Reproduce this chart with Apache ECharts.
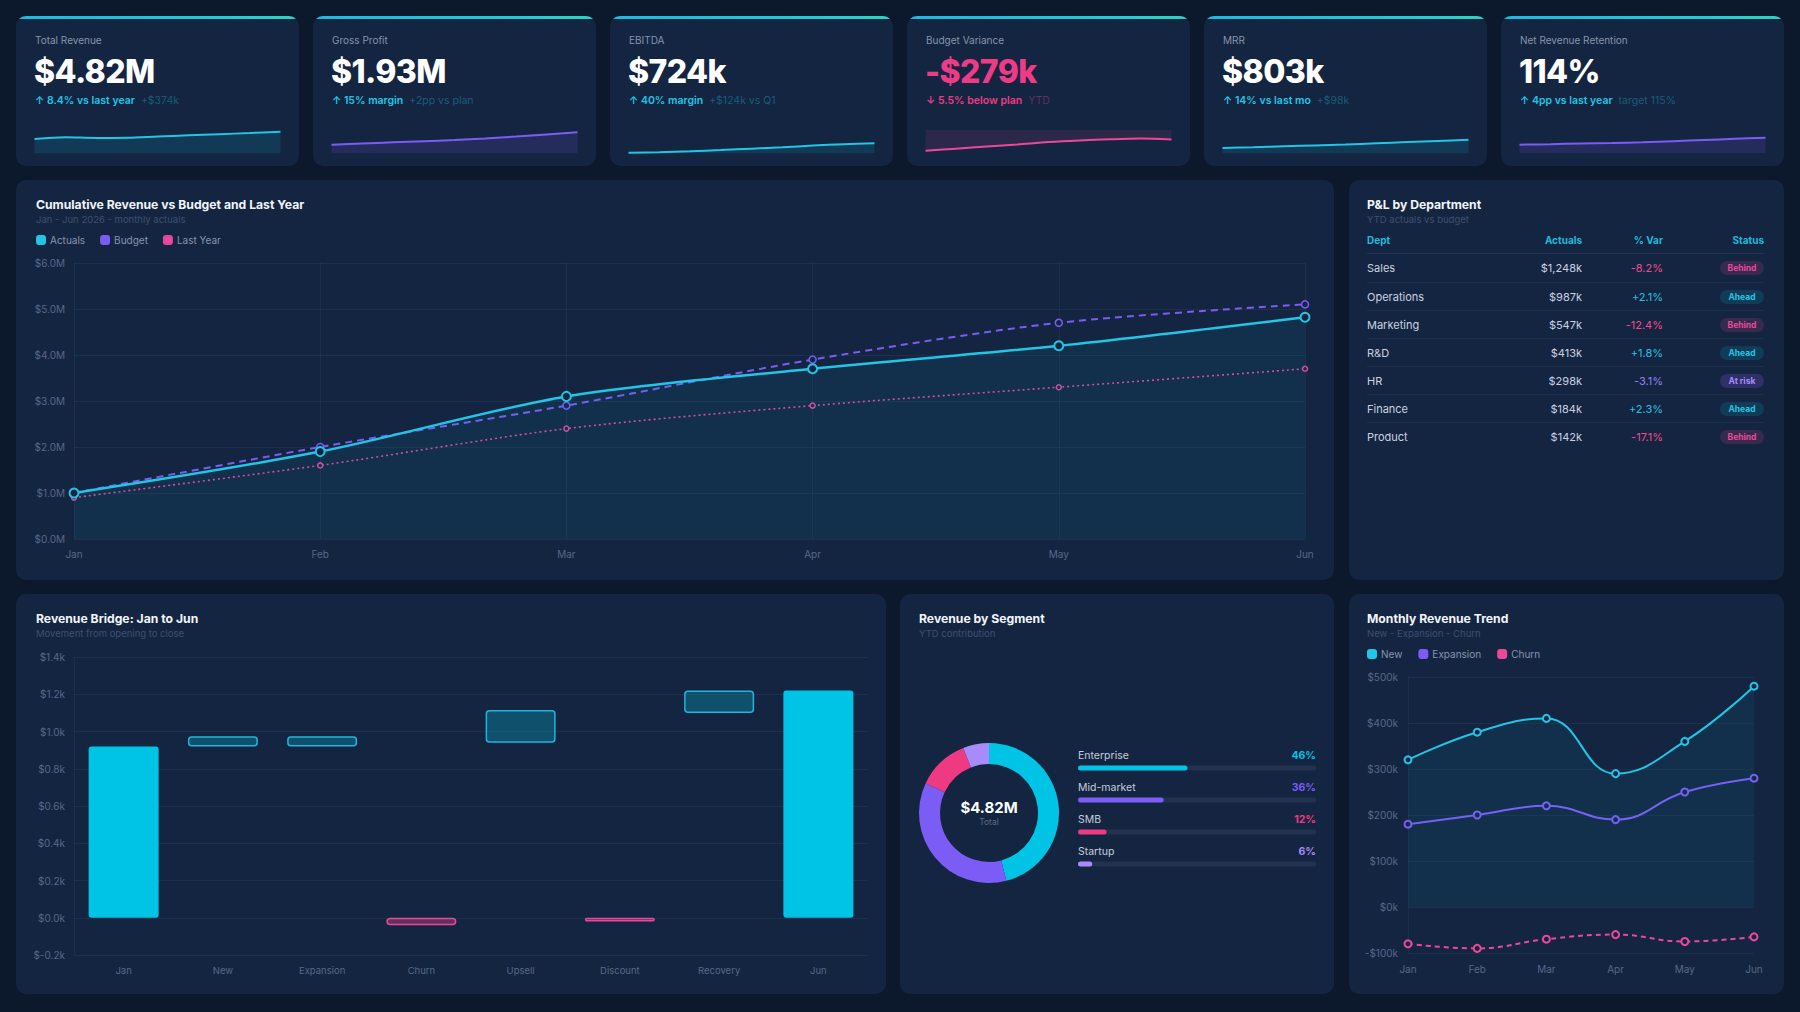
<!DOCTYPE html>
<html><head><meta charset="utf-8"><title>Finance Dashboard</title>
<script src="https://cdn.jsdelivr.net/npm/echarts@6/dist/echarts.min.js"></script>
<style>
*{box-sizing:border-box}
html,body{margin:0;padding:0}
body{width:1800px;height:1012px;background:#0c182b;font-family:Inter,'Noto Sans',sans-serif;position:relative;overflow:hidden;color:#e2e8f0}
.card,.panel{position:absolute;background:#142541;border-radius:10px;overflow:hidden}
.card::before{content:'';position:absolute;left:0;top:0;right:0;height:3px;background:linear-gradient(90deg,#1fb8e0,#22c9d6 70%,#2dd4bf);z-index:3}
.abs{position:absolute;white-space:nowrap}
.klabel{left:19px;top:17px;font-size:10px;line-height:14px;color:#8595ad}
.kvalue{left:18px;top:38px;font-size:32px;line-height:36px;font-weight:800;letter-spacing:-0.6px;color:#fff}
.kdelta{left:19px;top:78px;font-size:10.5px;line-height:14px;font-weight:600}
.kdelta .note{font-weight:400;margin-left:6px}
.spark{position:absolute;left:18px;top:111px;width:247px;height:29px}
.ptitle{font-size:12.2px;line-height:16px;font-weight:700;color:#f1f5f9;top:17px;z-index:2}
.psub{font-size:9.5px;line-height:13px;color:#3d5070;top:33px;z-index:2}
.chart{position:absolute;left:0;top:0;width:100%;height:100%}
.th{font-size:10px;line-height:14px;font-weight:700;color:#22b8d8;top:53px}
.row{position:absolute;left:18px;width:397px;height:28px}
.cell{position:absolute;top:0;line-height:28px;font-size:11px;color:#c9d3e0;white-space:nowrap}
.pill{position:absolute;right:0;top:7px;width:44px;height:14px;border-radius:7px;font-size:8.5px;font-weight:700;line-height:14px;text-align:center}
</style></head>
<body>
<div id="root"></div>
<script>
// ---------- DATA ----------
const kpiLabels = ['Total Revenue','Gross Profit','EBITDA','Budget Variance','MRR','Net Revenue Retention'];
const kpiValues = ['$4.82M','$1.93M','$724k','-$279k','$803k','114%'];
const kpiDeltas = ['↑ 8.4% vs last year','↑ 15% margin','↑ 40% margin','↓ 5.5% below plan','↑ 14% vs last mo','↑ 4pp vs last year'];
const kpiNotes  = ['+$374k','+2pp vs plan','+$124k vs Q1','YTD','+$98k','target 115%'];
const sparkRevenue = [61,69,66,67,72,77,82,87,93];
const sparkGross   = [37,42,47,52,57,64,72,81,90];
const sparkEbitda  = [2,5,9,14,20,26,33,39,43];
const sparkVariance= [-89,-80,-71,-62,-52,-45,-40,-37,-41];
const sparkMrr     = [23,26,30,34,38,43,48,53,58];
const sparkNrr     = [37,39,42,44,47,52,57,62,67];

const months = ['Jan','Feb','Mar','Apr','May','Jun'];
const cumActuals  = [1.0,1.9,3.1,3.7,4.2,4.82];
const cumBudget   = [1.0,2.0,2.9,3.9,4.7,5.1];
const cumLastYear = [0.9,1.6,2.4,2.9,3.3,3.7];
const cumTicks = [0,1,2,3,4,5,6];

const deptNames   = ['Sales','Operations','Marketing','R&D','HR','Finance','Product'];
const deptActuals = [1248,987,547,413,298,184,142];
const deptVar     = [-8.2,2.1,-12.4,1.8,-3.1,2.3,-17.1];
const deptStatus  = ['Behind','Ahead','Behind','Ahead','At risk','Ahead','Behind'];

const bridgeSteps  = ['Jan','New','Expansion','Churn','Upsell','Discount','Recovery','Jun'];
const bridgeBase   = [0,0.92,0.92,0,0.94,0,1.10,0];
const bridgeChange = [0.92,0.055,0.055,-0.04,0.175,-0.02,0.12,1.22];

const segNames = ['Enterprise','Mid-market','SMB','Startup'];
const segShare = [46,36,12,6];
const segTotal = '$4.82M';

const trendNew   = [320,380,410,290,360,480];
const trendExp   = [180,200,220,190,250,280];
const trendChurn = [-80,-90,-70,-60,-75,-65];

// ---------- STYLE ----------
const CY='#22c5e5', PU='#7c5cf6', PK='#ec4899', LP='#a78bfa', BG='#142541';
const AX='#56688a', GRID='rgba(148,163,184,0.08)';
const FONT='Inter';
const root=document.getElementById('root');
function el(tag,cls,style,parent,text){const e=document.createElement(tag);if(cls)e.className=cls;if(style)Object.assign(e.style,style);if(text!==undefined)e.textContent=text;(parent||root).appendChild(e);return e;}
function mk(div){return echarts.init(div,null,{renderer:'svg'});}

// ---------- KPI CARDS ----------
const sparks=[sparkRevenue,sparkGross,sparkEbitda,sparkVariance,sparkMrr,sparkNrr];
const sparkCol=[CY,PU,CY,PK,CY,PU];
const sparkFill=['rgba(6,182,212,0.2)','rgba(124,92,246,0.2)','rgba(6,182,212,0.2)','rgba(236,72,153,0.16)','rgba(6,182,212,0.2)','rgba(124,92,246,0.2)'];
kpiLabels.forEach((lab,i)=>{
  const c=el('div','card',{left:(16+i*297)+'px',top:'16px',width:'283px',height:'150px'});
  el('div','abs klabel',null,c,lab);
  el('div','abs kvalue',i===3?{color:'#ee3b86'}:null,c,kpiValues[i]);
  const d=el('div','abs kdelta',{color:i===3?'#ee3b86':CY},c,kpiDeltas[i]);
  el('span','note',{color:i===3?'rgba(236,72,153,0.35)':'rgba(34,197,229,0.35)'},d,kpiNotes[i]);
  const s=el('div','spark',null,c);
  const neg=i===3;
  mk(s).setOption({animation:false,
    grid:{left:0.5,right:0.5,top:3,bottom:2.7},
    xAxis:{type:'category',show:false,boundaryGap:false,data:sparks[i].map((_,k)=>k)},
    yAxis:{type:'value',show:false,min:neg?-100:0,max:neg?0:100},
    series:[{type:'line',data:sparks[i],smooth:0.3,symbol:'none',silent:true,
      lineStyle:{color:sparkCol[i],width:2},areaStyle:{color:sparkFill[i]}}]});
});

// ---------- PANELS ----------
function panel(x,y,w,h,title,sub,tl){
  const p=el('div','panel',{left:x+'px',top:y+'px',width:w+'px',height:h+'px'});
  const ch=el('div','chart',null,p);
  el('div','abs ptitle',{left:tl+'px'},p,title);
  if(sub) el('div','abs psub',{left:tl+'px'},p,sub);
  return {p,ch};
}
function hollow(col,size,bw){return {symbol:'circle',symbolSize:size,itemStyle:{color:BG,borderColor:col,borderWidth:bw}};}
const legendText={color:'#8595ad',fontSize:10,fontFamily:FONT};

// Cumulative
const P1=panel(16,180,1318,400,'Cumulative Revenue vs Budget and Last Year','Jan - Jun 2026 - monthly actuals',20);
mk(P1.ch).setOption({animation:false,textStyle:{fontFamily:FONT},
  legend:{left:20,top:55,padding:0,itemWidth:8,itemHeight:8,itemGap:15,icon:'roundRect',textStyle:legendText,
    data:[{name:'Actuals',itemStyle:{color:CY}},{name:'Budget',itemStyle:{color:PU}},{name:'Last Year',itemStyle:{color:PK}}]},
  grid:{left:58,right:29,top:83,bottom:41},
  xAxis:{type:'category',boundaryGap:false,data:months,axisLine:{show:false},axisTick:{show:false},
    axisLabel:{color:AX,fontSize:10,margin:10},splitLine:{show:true,lineStyle:{color:GRID}}},
  yAxis:{type:'value',min:cumTicks[0],max:cumTicks[cumTicks.length-1],interval:1,
    axisLabel:{color:AX,fontSize:10,margin:9,formatter:v=>'$'+v.toFixed(1)+'M'},splitLine:{lineStyle:{color:GRID}}},
  series:[
    Object.assign({name:'Actuals',type:'line',data:cumActuals,smooth:0.3,z:5,
      lineStyle:{color:CY,width:2.5},areaStyle:{color:'rgba(6,182,212,0.11)'}},hollow(CY,9,2)),
    Object.assign({name:'Budget',type:'line',data:cumBudget,smooth:0.3,z:4,
      lineStyle:{color:PU,width:2,type:[7,5]}},hollow(PU,7,1.5)),
    Object.assign({name:'Last Year',type:'line',data:cumLastYear,smooth:0.3,z:3,
      lineStyle:{color:'#e0489a',width:1.6,type:[2,3]}},hollow('#e0489a',5,1.5))
  ]});

// P&L table
const P2=panel(1349,180,435,400,'P&L by Department','YTD actuals vs budget',18);
el('div','abs th',{left:'18px'},P2.p,'Dept');
el('div','abs th',{right:'202px'},P2.p,'Actuals');
el('div','abs th',{right:'121px'},P2.p,'% Var');
el('div','abs th',{right:'20px'},P2.p,'Status');
el('div','abs',{left:'18px',width:'397px',top:'73px',height:'1px',background:'rgba(148,163,184,0.12)'},P2.p);
const stCol={'Behind':[PK,'rgba(236,72,153,0.16)','#ee4a8e'],'Ahead':[CY,'rgba(6,182,212,0.16)','#2cc0e0'],'At risk':[LP,'rgba(139,92,246,0.22)','#8e86f3']};
deptNames.forEach((n,i)=>{
  const r=el('div','row',{top:(74+28*i)+'px',borderTop:i>0?'1px solid rgba(148,163,184,0.08)':'none'},P2.p);
  el('div','cell',{left:'0px'},r,n);
  el('div','cell',{right:'182px'},r,'$'+deptActuals[i].toLocaleString('en-US')+'k');
  const v=deptVar[i];
  el('div','cell',{right:'101px',color:stCol[deptStatus[i]][2]},r,(v>0?'+':'')+v.toFixed(1)+'%');
  el('div','pill',{color:stCol[deptStatus[i]][0],background:stCol[deptStatus[i]][1]},r,deptStatus[i]);
});

// Revenue bridge
const P3=panel(16,594,870,400,'Revenue Bridge: Jan to Jun','Movement from opening to close',20);
const last=bridgeChange.length-1;
mk(P3.ch).setOption({animation:false,textStyle:{fontFamily:FONT},
  grid:{left:58,right:18,top:63,bottom:39},
  xAxis:{type:'category',data:bridgeSteps,axisLine:{show:false},axisTick:{show:false},
    axisLabel:{color:AX,fontSize:9.5,margin:10}},
  yAxis:{type:'value',min:-0.2,max:1.4,interval:0.2,
    axisLine:{show:true,lineStyle:{color:'rgba(148,163,184,0.07)'}},
    axisLabel:{color:AX,fontSize:10,margin:9,formatter:v=>'$'+v.toFixed(1)+'k'},splitLine:{lineStyle:{color:GRID}}},
  series:[
    {name:'base',type:'bar',stack:'w',data:bridgeBase,barWidth:70,silent:true,itemStyle:{color:'transparent'}},
    {name:'change',type:'bar',stack:'w',barWidth:70,silent:true,
     data:bridgeChange.map((v,i)=>{
       let st;
       if(i===0||i===last) st={color:'#00c4e6',borderRadius:3};
       else if(v<0) st={color:'rgba(236,72,153,0.35)',borderColor:'#e8479a',borderWidth:1.5,borderRadius:3};
       else st={color:'rgba(6,182,212,0.3)',borderColor:'#22b4dc',borderWidth:1.5,borderRadius:3};
       return {value:v,itemStyle:st};
     })}
  ]});

// Revenue by segment
const P4=panel(900,594,434,400,'Revenue by Segment','YTD contribution',19);
const segCol=['#00c4e6','#7b5cf5','#ee3a83','#a78bfa'];
mk(P4.ch).setOption({animation:false,textStyle:{fontFamily:FONT},
  grid:{left:178,right:18,top:158,bottom:114},
  xAxis:{type:'value',max:100,show:false},
  yAxis:{type:'category',data:segNames,inverse:true,show:false},
  series:[
    {type:'pie',center:[89,219],radius:[49,70],startAngle:90,clockwise:true,silent:true,
     label:{show:false},labelLine:{show:false},
     data:segNames.map((n,i)=>({name:n,value:segShare[i],itemStyle:{color:segCol[i]}}))},
    {type:'bar',barWidth:5,barGap:'-100%',silent:true,itemStyle:{color:'#22324e',borderRadius:3},
     data:segShare.map((v,i)=>({value:100,label:{color:segCol[i]}})),
     label:{show:true,position:['100%',-10],align:'right',verticalAlign:'middle',fontSize:10.5,fontWeight:700,
       formatter:p=>segShare[p.dataIndex]+'%'}},
    {type:'bar',barWidth:5,silent:true,
     data:segShare.map((v,i)=>({value:v,itemStyle:{color:segCol[i],borderRadius:3}})),
     label:{show:true,position:[0,-10],align:'left',verticalAlign:'middle',fontSize:10.5,color:'#c3cddc',formatter:'{b}'}}
  ]});
el('div','abs',{left:'39px',width:'100px',textAlign:'center',top:'205px',fontSize:'15px',lineHeight:'18px',fontWeight:'700',color:'#fff',zIndex:2},P4.p,segTotal);
el('div','abs',{left:'39px',width:'100px',textAlign:'center',top:'222px',fontSize:'8.5px',lineHeight:'12px',color:'#5a6b86',zIndex:2},P4.p,'Total');

// Monthly revenue trend
const P5=panel(1349,594,435,400,'Monthly Revenue Trend','New - Expansion - Churn',18);
mk(P5.ch).setOption({animation:false,textStyle:{fontFamily:FONT},
  legend:{left:18,top:55,padding:0,itemWidth:8,itemHeight:8,itemGap:16,icon:'roundRect',textStyle:legendText,
    data:[{name:'New',itemStyle:{color:CY}},{name:'Expansion',itemStyle:{color:PU}},{name:'Churn',itemStyle:{color:PK}}]},
  grid:{left:59,right:30,top:83,bottom:41},
  xAxis:{type:'category',boundaryGap:false,data:months,axisLine:{show:false},axisTick:{show:false},
    axisLabel:{color:AX,fontSize:10,margin:11}},
  yAxis:{type:'value',min:-100,max:500,interval:100,
    axisLine:{show:true,lineStyle:{color:'rgba(148,163,184,0.07)'}},
    axisLabel:{color:AX,fontSize:10,margin:10,formatter:v=>v<0?'-$'+Math.abs(v)+'k':'$'+v+'k'},
    splitLine:{lineStyle:{color:GRID}}},
  series:[
    Object.assign({name:'New',type:'line',data:trendNew,smooth:0.45,z:5,
      lineStyle:{color:CY,width:2},areaStyle:{color:'rgba(6,182,212,0.1)'}},hollow(CY,7,2)),
    Object.assign({name:'Expansion',type:'line',data:trendExp,smooth:0.45,z:4,
      lineStyle:{color:PU,width:2}},hollow(PU,7,2)),
    Object.assign({name:'Churn',type:'line',data:trendChurn,smooth:0.45,z:3,
      lineStyle:{color:PK,width:2,type:[5,4]}},hollow(PK,7,2))
  ]});
</script>
</body></html>
